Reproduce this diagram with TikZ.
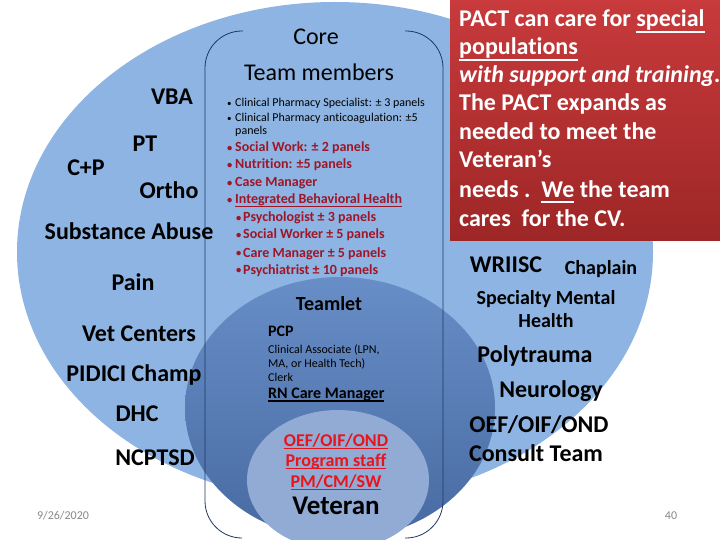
\documentclass[tikz,border=0pt]{standalone}
\usepackage{fontspec}
\usepackage{graphicx}
\setmainfont{Carlito}[Ligatures={NoCommon}]
\usetikzlibrary{shapes.geometric}
\definecolor{bigblue}{RGB}{141,180,226}
\definecolor{midtop}{RGB}{104,142,199}
\definecolor{midbot}{RGB}{72,106,162}
\definecolor{innerblue}{RGB}{145,171,213}
\definecolor{bracketcol}{RGB}{31,56,100}
\definecolor{redtop}{RGB}{200,58,60}
\definecolor{redbot}{RGB}{158,38,38}
\definecolor{bulletred}{RGB}{158,22,40}
\definecolor{brightred}{RGB}{232,20,28}
\definecolor{footgray}{RGB}{137,137,137}
% underline: #1 depth, #2 thickness, #3 text
\newcommand\myul[3]{\setbox0\hbox{#3}\leavevmode\rlap{\rule[-#1]{\wd0}{#2}}\box0\relax}
\newcommand\bul[1]{\makebox[#1][l]{\raisebox{0.05em}{\scalebox{0.75}{•}}}}
\tikzset{
  lbl/.style={inner sep=0pt, anchor=base, font=\fontsize{24}{28}\selectfont\bfseries},
  lbltwenty/.style={inner sep=0pt, anchor=base, font=\fontsize{20}{24}\selectfont\bfseries},
  corelbl/.style={inner sep=0pt, anchor=base, font=\fontsize{24}{28}\selectfont},
  pactline/.style={inner sep=0pt, anchor=base west, text=white, font=\fontsize{24}{28}\selectfont\bfseries},
  blist/.style={inner sep=0pt, anchor=base west, font=\fontsize{12}{14}\selectfont},
  rlist/.style={inner sep=0pt, anchor=base west, text=bulletred, font=\fontsize{14}{16}\selectfont\bfseries},
  tlist/.style={inner sep=0pt, anchor=base west, font=\fontsize{12}{14}\selectfont},
  tbold/.style={inner sep=0pt, anchor=base west, font=\fontsize{16}{18}\selectfont\bfseries},
  vred/.style={inner sep=0pt, anchor=base, text=brightred, font=\fontsize{18}{20}\selectfont\bfseries},
  foot/.style={inner sep=0pt, anchor=base, text=footgray, font=\fontsize{12}{14}\selectfont},
  bracket/.style={draw=bracketcol, line width=0.8pt, rounded corners=37pt},
  ell/.style={ellipse, inner sep=0pt, draw=none},
}
\begin{document}
\begin{tikzpicture}[x=1pt,y=-1pt]
\useasboundingbox (0,0) rectangle (720,540);
\fill[white] (0,0) rectangle (720,540);
% ellipses
\node[ell, fill=bigblue, minimum width=636pt, minimum height=500pt] (outer) at (335,252) {};
\node[ell, top color=midtop, bottom color=midbot, minimum width=310pt, minimum height=262pt] (middle) at (340,408) {};
\node[ell, fill=innerblue, minimum width=182pt, minimum height=140pt] (inner) at (338,480) {};
% red box
\node[inner sep=0pt, anchor=north west, top color=redtop, bottom color=redbot, minimum width=270pt, minimum height=240pt] (pact) at (450,0) {};
% double bracket
\draw[bracket] (243,31) -- (205,31) -- (205,538) -- (241,538);
\draw[bracket] (405,31) -- (443,31) -- (443,538) -- (405,538);
% core
\node[corelbl] (core) at (316,45) {Core};
\node[corelbl] (team) at (319,81) {Team members};
% left labels
\node[lbl] (vba) at (172,105) {VBA};
\node[lbl] (pt) at (145,152) {PT};
\node[lbl] (cp) at (86,176) {C+P};
\node[lbl] (ortho) at (169,199) {Ortho};
\node[lbl] (subst) at (129,240) {Substance Abuse};
\node[lbl] (pain) at (133,290) {Pain};
\node[lbl] (vet) at (139,341) {Vet Centers};
\node[lbl] (pidici) at (134,381) {PIDICI Champ};
\node[lbl] (dhc) at (137,421) {DHC};
\node[lbl] (ncptsd) at (155,465) {NCPTSD};
% bullet list
\node[blist] (b1) at (227,107) {\bul{8pt}Clinical Pharmacy Specialist: ± 3 panels};
\node[blist] (b2) at (227,122) {\bul{8pt}Clinical Pharmacy anticoagulation: ±5};
\node[blist] (b3) at (235,135) {panels};
\node[rlist] (r1) at (227,152) {\bul{8pt}Social Work: ± 2 panels};
\node[rlist] (r2) at (227,169) {\bul{8pt}Nutrition: ±5 panels};
\node[rlist] (r3) at (227,187) {\bul{8pt}Case Manager};
\node[rlist] (r4) at (227,204) {\bul{8pt}\myul{3.2pt}{1.3pt}{Integrated Behavioral Health}};
\node[rlist] (s1) at (236,222) {\bul{7pt}Psychologist ± 3 panels};
\node[rlist] (s2) at (236,239) {\bul{7pt}Social Worker ± 5 panels};
\node[rlist] (s3) at (236,257) {\bul{7pt}Care Manager ± 5 panels};
\node[rlist] (s4) at (236,274) {\bul{7pt}Psychiatrist ± 10 panels};
% teamlet
\node[inner sep=0pt, anchor=base, font=\fontsize{20}{24}\selectfont\bfseries] (teamlet) at (329,310) {Teamlet};
\node[tbold] (pcp) at (268,336) {PCP};
\node[tlist] (t1) at (268,353) {Clinical Associate (LPN,};
\node[tlist] (t2) at (268,367) {MA, or Health Tech)};
\node[tlist] (t3) at (268,381) {Clerk};
\node[tbold] (rn) at (268,398) {\myul{3.5pt}{1.3pt}{RN Care Manager}};
% veteran
\node[vred] (v1) at (336,446) {\myul{3.2pt}{1.4pt}{OEF/OIF/OND}};
\node[vred] (v2) at (336,466) {\myul{3.2pt}{1.4pt}{Program staff}};
\node[vred] (v3) at (336,487) {\myul{3.2pt}{1.4pt}{PM/CM/SW}};
\node[inner sep=0pt, anchor=base, font=\fontsize{27}{30}\selectfont\bfseries] (veteran) at (336,514) {Veteran};
% right labels
\node[lbl] (wriisc) at (506,272) {WRIISC};
\node[lbltwenty] (chaplain) at (601,274) {Chaplain};
\node[lbltwenty] (smh1) at (546,304) {Specialty Mental};
\node[lbltwenty] (smh2) at (546,327) {Health};
\node[lbl] (poly) at (535,362) {Polytrauma};
\node[lbl] (neuro) at (551,397) {Neurology};
\node[lbl] (oef) at (539,432) {OEF/OIF/OND};
\node[lbl] (consult) at (536,461) {Consult Team};
% PACT text
\node[pactline] (p1) at (459,27) {PACT can care for \myul{5.8pt}{1.6pt}{special}};
\node[pactline] (p2) at (459,55) {\myul{5.8pt}{1.6pt}{populations}};
\node[pactline] (p3) at (459,83) {\textit{with support and training.}};
\node[pactline] (p4) at (459,111) {The PACT expands as};
\node[pactline] (p5) at (459,140) {needed to meet the};
\node[pactline] (p6) at (459,168) {Veteran’s};
\node[pactline] (p7) at (459,197) {needs .~~\myul{5.8pt}{1.6pt}{We} the team};
\node[pactline] (p8) at (459,226) {cares~~for the CV.};
% footers
\node[foot] (date) at (63,519) {9/26/2020};
\node[foot] (page) at (671,519) {40};
\end{tikzpicture}
\end{document}
